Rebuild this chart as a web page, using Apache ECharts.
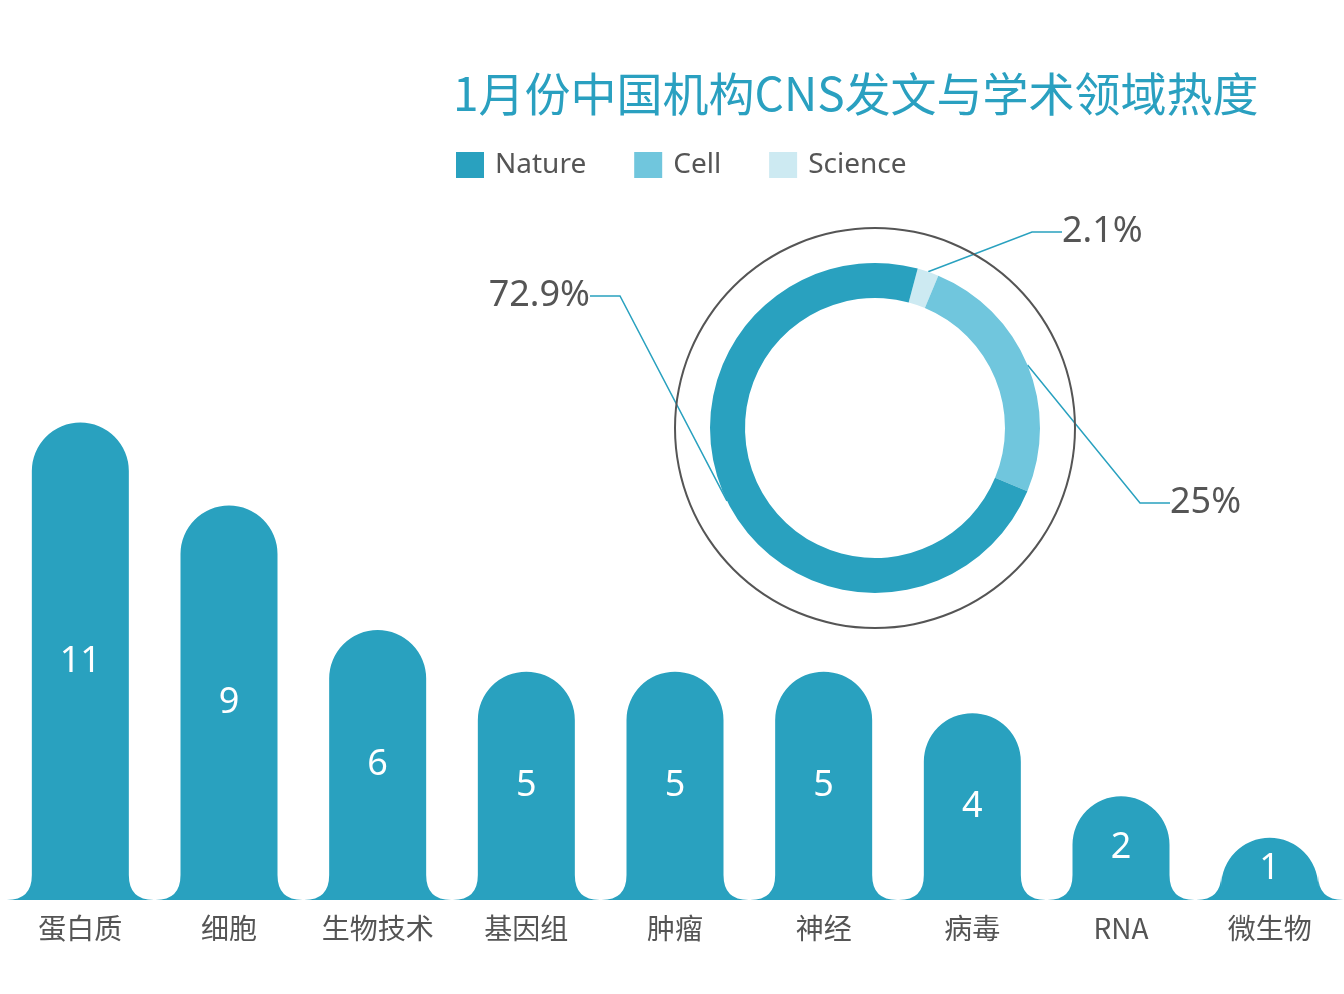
<!DOCTYPE html><html><head><meta charset="utf-8"><script src="https://cdn.jsdelivr.net/npm/echarts@6/dist/echarts.min.js"></script>
<style>html,body{margin:0;background:#fff}#c{width:1344px;height:994px}</style></head><body><div id="c"></div><script>
const categories=['蛋白质','细胞','生物技术','基因组','肿瘤','神经','病毒','RNA','微生物'];
const counts=[11,9,6,5,5,5,4,2,1];
const journals=['Science','Cell','Nature'];
const shares=[2.1,25,72.9];
const shareLabels=['2.1%','25%','72.9%'];
const colors={Nature:'#29a1bf',Cell:'#70c6dd',Science:'#cdeaf2'};
const labelPos=[{x:1062,y:232,align:'left'},{x:1170,y:503,align:'left'},{x:590,y:296,align:'right'}];
const chart=echarts.init(document.getElementById('c'));
chart.setOption({
 animation:false,
 title:{text:'1月份中国机构CNS发文与学术领域热度',left:448,top:66,textStyle:{color:'#2aa0c0',fontSize:46,fontWeight:'normal',fontFamily:'Noto Sans CJK SC'}},
 legend:{left:451,top:146,icon:'rect',itemWidth:28,itemHeight:26,itemGap:48,data:['Nature','Cell','Science'],textStyle:{fontSize:28,color:'#555',fontFamily:'Noto Sans',padding:[0,0,0,6]}},
 grid:{left:6,right:0,top:381,bottom:94},
 xAxis:{type:'category',data:categories,axisLine:{show:false},axisTick:{show:false},axisLabel:{fontSize:28,color:'#555',margin:14,fontFamily:'Noto Sans CJK SC'}},
 yAxis:{type:'value',min:-0.5,max:12,show:false,splitLine:{show:false}},
 series:[{type:'custom',data:counts.map((v,i)=>[i,v]),
  renderItem:(params,api)=>{
   const i=api.value(0),v=api.value(1);
   const top=api.coord([i,v]),base=api.coord([i,-0.5]);
   const cx=top[0],w=97,r=48.5,f=25,t=top[1],b=base[1];
   const L=cx-w/2,R=cx+w/2;
   const d=`M${L-f} ${b} Q${L} ${b} ${L} ${b-f} L${L} ${t+r} A${r} ${r} 0 0 1 ${R} ${t+r} L${R} ${b-f} Q${R} ${b} ${R+f} ${b} Z`;
   return {type:'group',children:[
    {type:'path',shape:{pathData:d},style:{fill:'#29a1bf'}},
    {type:'text',style:{text:String(v),x:cx,y:(t+b)/2,align:'center',verticalAlign:'middle',fill:'#fff',fontSize:36,fontFamily:'Noto Sans'}}]};
  }},
  {type:'pie',silent:true,center:[875,428],radius:[199,201],label:{show:false},data:[{value:1,itemStyle:{color:'#555'}}]},
  {type:'pie',center:[875,428],radius:[130,165],startAngle:75,clockwise:true,avoidLabelOverlap:false,
   data:journals.map((n,i)=>({name:n,value:shares[i],itemStyle:{color:colors[n]},label:{formatter:shareLabels[i]}})),
   label:{fontSize:36,color:'#555',fontFamily:'Noto Sans'},
   labelLayout:(p)=>({x:labelPos[p.dataIndex].x,y:labelPos[p.dataIndex].y,align:labelPos[p.dataIndex].align,verticalAlign:'middle'}),
   labelLine:{length:30,length2:30,lineStyle:{color:'#29a1bf',width:1.5}}}
 ]
});
</script></body></html>
